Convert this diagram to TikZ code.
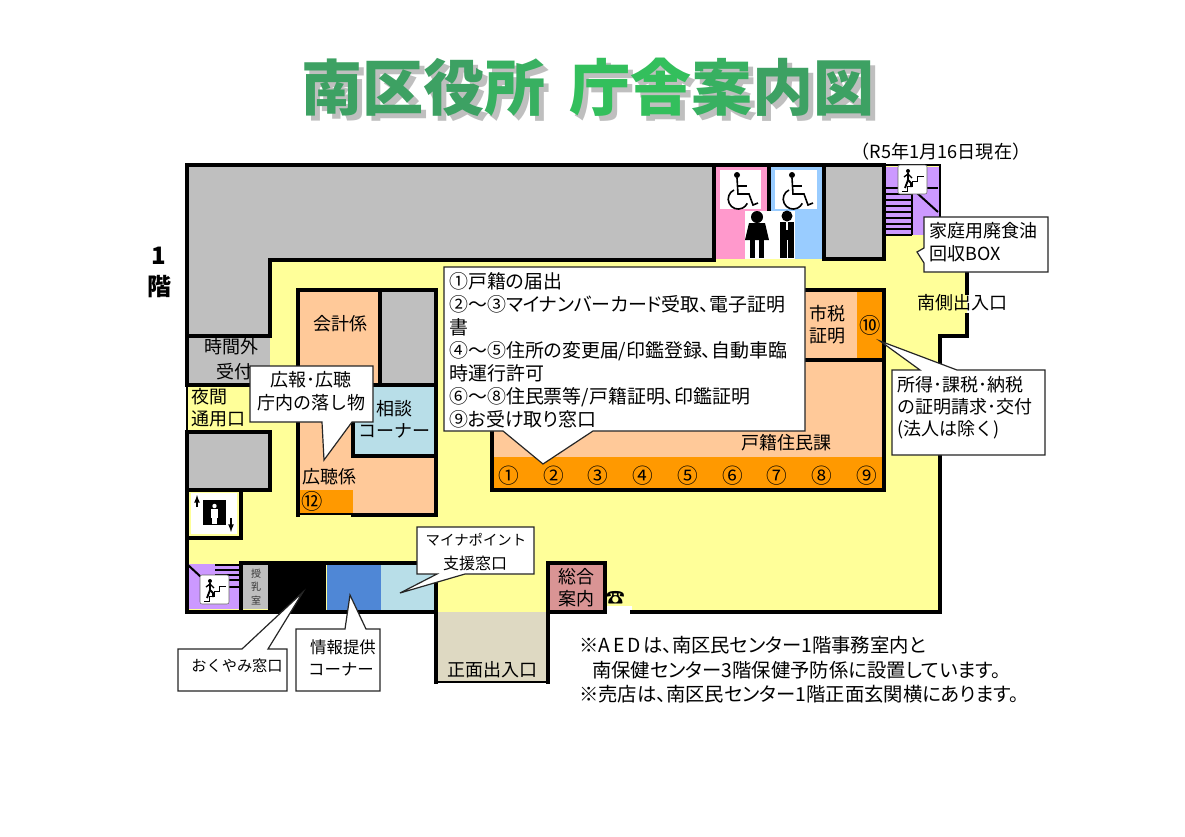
\documentclass[tikz,border=0pt]{standalone}
\usepackage{fontspec}
\setmainfont{Noto Sans CJK JP}
\newfontfamily\pfont[RawFeature=+palt]{Noto Sans CJK JP}
\usetikzlibrary{arrows}
\definecolor{dfloor}{rgb}{1,1,0.6}
\definecolor{dgray}{rgb}{0.75,0.75,0.75}
\definecolor{dpeach}{rgb}{1,0.79,0.6}
\definecolor{dorange}{rgb}{1,0.6,0}
\definecolor{dpink}{rgb}{1,0.6,0.8}
\definecolor{dsky}{rgb}{0.6,0.8,1}
\definecolor{dpurple}{rgb}{0.8,0.6,1}
\definecolor{dcyan}{rgb}{0.72,0.87,0.91}
\definecolor{dblue}{rgb}{0.31,0.53,0.84}
\definecolor{dguide}{rgb}{0.85,0.58,0.58}
\definecolor{dgate}{rgb}{0.87,0.85,0.76}
\definecolor{dgreen}{rgb}{0.24,0.63,0.39}
\definecolor{dlime}{rgb}{0.2,0.75,0.36}
\definecolor{dmid}{rgb}{0.22,0.69,0.38}
\tikzset{
    wall/.style={draw=black,line width=3pt,line cap=rect},
    thinwall/.style={draw=black,line width=1.5pt},
    callbox/.style={fill=white,draw=black!85,line width=0.9pt,line join=miter},
    txt/.style={inner sep=0pt,font=\fontsize{13.5}{15}\selectfont},
    small/.style={inner sep=0pt,font=\fontsize{12.3}{15}\selectfont},
    note/.style={inner sep=0pt,anchor=west,font=\pfont\fontsize{14.5}{15}\selectfont},
}
\begin{document}
\begin{tikzpicture}[x=0.75pt,y=-0.75pt]
\useasboundingbox (0,0) rectangle (1185,836);
% title
\node[inner sep=0pt,text=black!25,font=\fontsize{45.8}{50}\bfseries\selectfont] (titleshadow) at (593,92) {南区役所\hspace{18pt}庁舎案内図};
\node[inner sep=0pt,text=dgreen,font=\fontsize{45.8}{50}\bfseries\selectfont] (title) at (588,87) {南区役\textcolor{dmid}{所}\hspace{18pt}\textcolor{dlime}{庁舎}\textcolor{dmid}{案}内図};
\node[inner sep=0pt,font=\fontsize{13.6}{15}\selectfont] (datelabel) at (941,152) {（R5年1月16日現在）};
\node[inner sep=0pt,font=\fontsize{18}{20}\bfseries\selectfont] (floorone) at (159,256) {1};
\node[inner sep=0pt,font=\fontsize{18}{20}\bfseries\selectfont] (floorkai) at (159,287) {階};
% floor and rooms
\fill[dfloor] (187,165) -- (940,165) -- (940,235) -- (967,235) -- (967,336) -- (940,336) -- (940,612) -- (187,612) -- cycle;
\fill[dgray] (187,165) -- (714,165) -- (714,260) -- (270,260) -- (270,336) -- (187,336) -- cycle;
\fill[dpink] (716,167) rectangle (769,259);
\fill[dsky] (769,167) rectangle (824,259);
\fill[dgray] (824,167) rectangle (884,259);
\fill[dpurple] (885,167) rectangle (940,235);
\fill[dgray] (187,336) rectangle (270,385);
\fill[dgray] (187,432) rectangle (270,490);
\fill[dpeach] (298,290) rectangle (436,515);
\fill[dgray] (380,290) rectangle (436,385);
\fill[dcyan] (353,385) rectangle (436,456);
\fill[dorange] (299,490) rectangle (353,513);
\fill[dpeach] (803,290) rectangle (884,360);
\fill[dorange] (857,292) rectangle (884,359);
\fill[dpeach] (492,360) rectangle (884,490);
\fill[dorange] (493,457) rectangle (884,488);
\fill[dpurple] (188,564) rectangle (241,609);
\fill[dgray] (243,565) rectangle (269,609);
\fill[black] (270,563) rectangle (326,611);
\fill[dblue] (327,565) rectangle (381,611);
\fill[dcyan] (381,565) rectangle (436,611);
\fill[dguide] (548,563) rectangle (605,611);
\fill[dgate] (436,612) rectangle (548,682);
\fill[white] (605,606) rectangle (632,614);
% stair lines
\foreach \y in {188,194,200,206,212,218,224,229,235} {
    \draw[black,thick] (885,\y) -- (912,\y);
}
\draw[black,thick] (912,188) -- (912,235);
\draw[black,thick] (912,188) -- (938,188);
\draw[black,line width=1.5pt] (917,193) -- (938,212);
\foreach \y in {565,570,575,580,587} {
    \draw[black,thick] (215,\y) -- (241,\y);
}
\draw[black,line width=1.5pt] (188,565) -- (201,577);
% walls
\draw[wall] (187,165) -- (884,165);
\draw[thinwall] (884,165) -- (940,165) -- (940,217);
\draw[wall] (270,260) -- (714,260) -- (714,165);
\draw[wall] (824,165) -- (824,259) -- (884,259) -- (884,165);
\draw[wall] (769,165) -- (769,211);
\draw[wall] (187,165) -- (187,385) -- (270,385);
\draw[wall] (187,336) -- (270,336) -- (270,260);
\draw[thinwall] (187,385) -- (187,432);
\draw[wall] (187,432) -- (270,432) -- (270,490) -- (187,490);
\draw[wall] (187,432) -- (187,612) -- (436,612);
\draw[wall] (187,538) -- (241,538) -- (241,490) -- (187,490);
\draw[wall] (241,612) -- (241,563) -- (436,563) -- (436,682);
\draw[wall] (270,563) -- (270,612);
\draw[thinwall] (436,682) -- (548,682);
\draw[wall] (548,682) -- (548,563) -- (605,563) -- (605,612) -- (548,612);
\draw[wall] (632,612) -- (940,612) -- (940,336) -- (967,336) -- (967,315);
\draw[wall] (967,293) -- (967,272);
% counters
\draw[wall] (298,515) -- (298,290) -- (436,290) -- (436,515) -- (353,515);
\draw[thinwall] (298,514) -- (353,514);
\draw[wall] (380,290) -- (380,385);
\draw[wall] (353,385) -- (436,385);
\draw[wall] (353,385) -- (353,456) -- (436,456);
\draw[wall] (803,290) -- (884,290) -- (884,490) -- (492,490) -- (492,420);
\draw[wall] (803,360) -- (884,360);
% toilet pictures
\fill[white] (720,170) rectangle (761,209);
\fill[white] (775,170) rectangle (817,209);
\fill[white] (745,211) rectangle (795,259);
\foreach \x in {737,792} {
    \begin{scope}[shift={(\x,0)}]
    \fill[black] (0,175) circle (3);
    \draw[black,line width=1.2pt] (0,178) -- (1,194) -- (12,194) -- (16,205) -- (21,203);
    \draw[black,line width=1.2pt] (1,186) -- (10,186);
    \draw[black,line width=1.2pt] (-3,190) arc[start angle=245,end angle=25,radius=10];
    \end{scope}
}
\fill[black] (757,217) circle (6);
\fill[black] (749,223) -- (765,223) -- (769,240) -- (745,240) -- cycle;
\fill[black] (750,240) rectangle (755,258);
\fill[black] (759,240) rectangle (764,258);
\fill[black] (787,216) circle (5.5);
\fill[black] (780,222) rectangle (794,258);
\fill[white] (786.5,240) rectangle (787.5,258);
\fill[white] (786,222) rectangle (788,230);
% stair signs
\foreach \x/\y in {898/165,200/575} {
    \begin{scope}[shift={(\x,\y)}]
    \filldraw[fill=white,draw=black!60,rounded corners=1.5pt] (0,0) rectangle (29,29);
    \draw[black] (4,26) -- (9,26) -- (9,21) -- (14,21) -- (14,16) -- (19,16) -- (19,11) -- (26,11);
    \fill[black] (10,6) circle (2);
    \draw[black,line width=1.4pt] (10,8) -- (10,15) -- (13,18) -- (13,22);
    \draw[black,line width=1.4pt] (10,15) -- (7,23);
    \draw[black,line width=1pt] (6,12) -- (10,9) -- (14,13);
    \end{scope}
}
% elevator
\fill[white] (191,493) rectangle (237,534);
\fill[black] (203,500) rectangle (226,525);
\fill[white] (214.5,506) circle (2.2);
\fill[white] (211,509) rectangle (218,518);
\fill[white] (212,518) rectangle (217,524);
\draw[-latex,black,line width=1pt] (197,507) -- (197,495);
\draw[-latex,black,line width=1pt] (231,518) -- (231,532);
% room labels
\node[txt] (kaikei) at (340,324) {会計係};
\node[txt] (sodan) at (394,409) {相談};
\node[txt] (corner) at (394,431) {コーナー};
\node[txt] (kocho) at (329,477) {広聴係};
\node[txt] (jikangai) at (231,347) {時間外};
\node[txt] (uketsuke) at (234,372) {受付};
\node[txt,anchor=west] (yakan) at (191,397) {夜間};
\node[txt,anchor=west] (tsuyo) at (191,419) {通用口};
\node[txt] (shizei) at (827,314) {市税};
\node[txt] (shomei) at (827,336) {証明};
\node[txt] (koseki) at (786,443) {戸籍住民課};
\node[txt] (sogo) at (576,577) {総合};
\node[txt] (annai) at (576,599) {案内};
\node[txt] (shomen) at (492,670) {正面出入口};
\node[txt] (minami) at (962,303) {南側出入口};
\node[inner sep=0pt,font=\fontsize{7.5}{9}\selectfont,text=black!80] (ju) at (256,574) {授};
\node[inner sep=0pt,font=\fontsize{7.5}{9}\selectfont,text=black!80] (nyu) at (256,587) {乳};
\node[inner sep=0pt,font=\fontsize{7.5}{9}\selectfont,text=black!80] (shitsu) at (256,601) {室};
\node[inner sep=0pt,font=\fontsize{16}{18}\selectfont] (num10) at (870,325) {⑩};
\node[inner sep=0pt,font=\fontsize{16}{18}\selectfont] (num12) at (312,501) {⑫};
\foreach \x/\n in {509/①,554/②,598/③,643/④,688/⑤,733/⑥,777/⑦,822/⑧,867/⑨} {
    \node[inner sep=0pt,font=\fontsize{15.5}{18}\selectfont] at (\x,476) {\n};
}
\node[inner sep=0pt,font=\fontsize{14}{15}\bfseries\selectfont] (phone) at (616,598) {☎};
% callouts
\draw[callbox] (444,267) -- (805,267) -- (805,431) -- (593,431) -- (543,464) -- (503,431) -- (444,431) -- cycle;
\node[inner sep=0pt,anchor=north west,align=left,font=\pfont\fontsize{14.2}{17.3}\selectfont] (guide) at (449,272) {①戸籍の届出\\②～③マイナンバーカード受取、電子証明\\書\\④～⑤住所の変更届/印鑑登録、自動車臨\\時運行許可\\⑥～⑧住民票等/戸籍証明、印鑑証明\\⑨お受け取り窓口};
\draw[callbox] (250,366) -- (373,366) -- (373,422) -- (352,422) -- (324,460) -- (322,422) -- (250,422) -- cycle;
\node[txt] (koho) at (311,380) {広報･広聴};
\node[txt] (otoshi) at (311,403) {庁内の落し物};
\draw[callbox] (924,217) -- (1048,217) -- (1048,272) -- (924,272) -- (924,263) -- (917,252) -- (924,248) -- cycle;
\node[txt,anchor=west] (haishoku) at (929,231) {家庭用廃食油};
\node[txt,anchor=west] (box) at (929,254) {回収BOX};
\draw[callbox] (892,370) -- (920,370) -- (880,341) -- (957,370) -- (1045,370) -- (1045,455) -- (892,455) -- cycle;
\node[txt,anchor=west] (shotoku) at (897,385) {所得･課税･納税};
\node[txt,anchor=west] (seikyu) at (897,407) {の証明請求･交付};
\node[txt,anchor=west] (hojin) at (897,430) {(法人は除く)};
\draw[callbox] (178,649) -- (242,649) -- (303,592) -- (268,649) -- (287,649) -- (287,691) -- (178,691) -- cycle;
\node[small,font=\fontsize{11.4}{13}\selectfont] (okuyami) at (237,666) {おくやみ窓口};
\draw[callbox] (296,629) -- (345,629) -- (350,595) -- (366,629) -- (380,629) -- (380,691) -- (296,691) -- cycle;
\node[small] (joho) at (343,647) {情報提供};
\node[small] (jocorner) at (341,669) {コーナー};
\draw[callbox] (417,527) -- (534,527) -- (534,574) -- (465,574) -- (400,593) -- (437,574) -- (417,574) -- cycle;
\node[small,font=\fontsize{10.8}{13}\selectfont] (myna) at (476,540) {マイナポイント};
\node[small,font=\fontsize{12}{13}\selectfont] (shien) at (475,563) {支援窓口};
% notes
\node[note] (aed) at (579,645) {※A\hspace{2pt}E\hspace{2pt}D\hspace{2pt}は、南区民センター1階事務室内と};
\node[note] (aedtwo) at (592,670) {南保健センター3階保健予防係に設置しています。};
\node[note] (baiten) at (579,694) {※売店は、南区民センター1階正面玄関横にあります。};
\end{tikzpicture}
\end{document}
